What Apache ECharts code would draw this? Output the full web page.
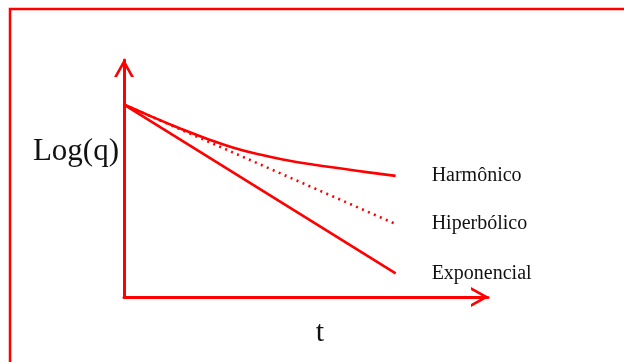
<!DOCTYPE html>
<html>
<head>
<meta charset="utf-8">
<script src="https://cdn.jsdelivr.net/npm/echarts@6/dist/echarts.min.js"></script>
<style>
  html, body { margin: 0; padding: 0; background: #ffffff; }
  #chart { width: 624px; height: 362px; }
</style>
</head>
<body>
<div id="chart"></div>
<script>
// Declínio da vazão: log(q) em função do tempo t
const tempo = [0, 1, 2, 3, 4, 5, 6, 7, 8, 9, 10];
const harmonico = [8.12, 7.62, 7.14, 6.70, 6.31, 6.01, 5.77, 5.58, 5.42, 5.26, 5.11];
const hiperbolico = [8.12, 3.08];
const exponencial = [8.12, 1.0];
const tempoReta = [0, 10];
const nomes = ['Harmônico', 'Hiperbólico', 'Exponencial'];
const eixoX = 't';
const eixoY = 'Log(q)';

const RED = '#ff0000';
const SERIF = '"Liberation Serif", "Times New Roman", serif';

// open chevron used as axis arrow head
const chevron = 'path://M0,18 L10,0 L20,18 L17,18 L10,5.4 L3,18 Z';

function pares(xs, ys) { return xs.map((x, i) => [x, ys[i]]); }

const axisCommon = {
  type: 'value',
  min: 0,
  axisLine: {
    show: true,
    lineStyle: { color: RED, width: 3 },
    symbol: ['none', chevron],
    symbolSize: [20, 18],
    symbolOffset: [0, -8]
  },
  axisTick: { show: false },
  axisLabel: { show: false },
  splitLine: { show: false }
};

function serie(nome, dados, smooth, type) {
  return {
    name: nome,
    type: 'line',
    data: dados,
    smooth: smooth,
    symbol: 'none',
    silent: true,
    lineStyle: { color: RED, width: 2.6, type: type },
    endLabel: {
      show: true,
      formatter: '{a}',
      distance: 36,
      color: '#111111',
      fontFamily: SERIF,
      fontSize: 20
    }
  };
}

const chart = echarts.init(document.getElementById('chart'), null, { renderer: 'canvas' });
chart.setOption({
  backgroundColor: '#ffffff',
  animation: false,
  grid: { left: 124, right: 136, top: 60, bottom: 65, outerBoundsMode: 'none' },
  xAxis: Object.assign({}, axisCommon, {
    max: 13.4,
    name: eixoX,
    nameLocation: 'middle',
    nameGap: 21,
    nameTextStyle: { fontFamily: SERIF, fontSize: 30, color: '#111111', padding: [0, 0, 0, 28] }
  }),
  yAxis: Object.assign({}, axisCommon, {
    max: 10,
    name: eixoY,
    nameLocation: 'middle',
    nameRotate: 0,
    nameGap: 5,
    nameTextStyle: {
      fontFamily: SERIF, fontSize: 31, color: '#111111',
      verticalAlign: 'bottom', lineHeight: 53
    }
  }),
  graphic: [{
    type: 'rect',
    shape: { x: 10, y: 9, width: 700, height: 400 },
    style: { fill: 'none', stroke: RED, lineWidth: 2.5 },
    silent: true
  }],
  series: [
    serie(nomes[0], pares(tempo, harmonico), 0.5, 'solid'),
    serie(nomes[1], pares(tempoReta, hiperbolico), false, [2, 4.5]),
    serie(nomes[2], pares(tempoReta, exponencial), false, 'solid')
  ]
});
</script>
</body>
</html>
